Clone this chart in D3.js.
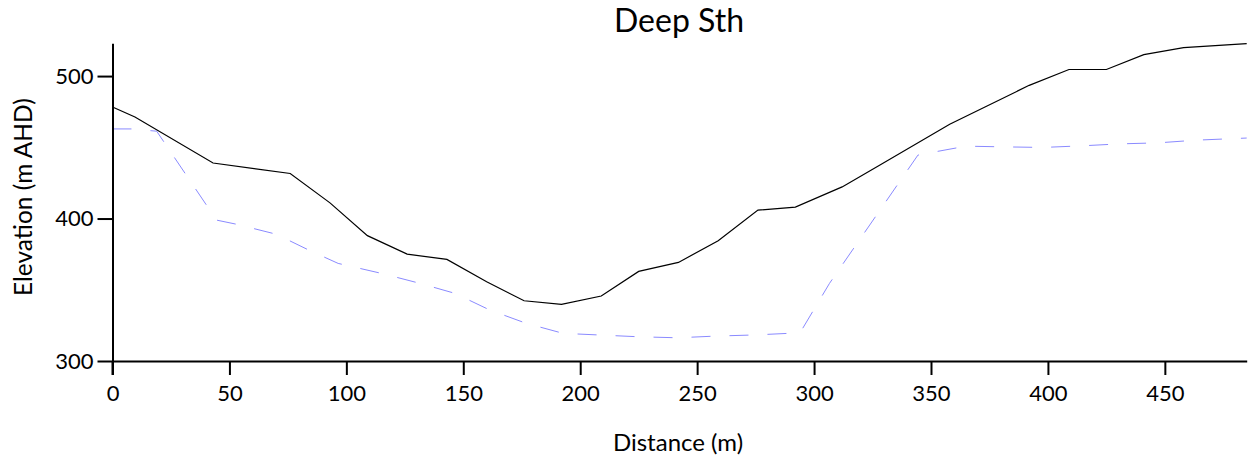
<!DOCTYPE html>
<html>
<head>
<meta charset="utf-8">
<script src="https://cdn.jsdelivr.net/npm/d3@7"></script>
<style>
  body { margin: 0; background: #fff; }
  svg { display: block; font-family: Lato, "Open Sans", sans-serif; }
</style>
</head>
<body>
<svg id="chart" width="1258" height="460"></svg>
<script>
// Ground surface (black solid)
const surfaceX = [0, 9.6, 43, 76, 93, 109, 126, 143, 160, 176, 192, 209, 225, 242, 259, 276, 292, 312, 328, 358, 392, 409, 425, 441, 458, 485];
const surfaceY = [478.3, 471.3, 439, 431.6, 411, 388, 375, 371.3, 355.6, 342.3, 339.8, 345.6, 362.9, 369.2, 384.4, 405.9, 408, 422.2, 437.4, 466.2, 493.5, 504.6, 504.6, 515, 520, 522.8];
// Second profile (blue dashed)
const layerX = [0, 8, 18.9, 44.5, 53, 70, 84, 96.5, 115, 131, 146.4, 161.3, 177, 192.7, 209, 225, 241.7, 258.2, 275, 294, 306.6, 344.4, 348, 365, 381.4, 397.8, 414.2, 430.6, 446.9, 463.3, 485];
const layerY = [462.9, 462.9, 461.3, 398.9, 396, 389, 377.8, 368.5, 361.5, 354.7, 347.5, 335.8, 326.4, 319.4, 318.2, 317, 316.3, 317.5, 318.3, 319.8, 354.5, 444.5, 445.7, 450.8, 450.3, 449.9, 451, 452.4, 453.1, 455, 456.5];
const xTicks = [0, 50, 100, 150, 200, 250, 300, 350, 400, 450];
const yTicks = [300, 400, 500];
const xDomain = [0, 485];
const yDomain = [300, 523];
const titleText = "Deep Sth";
const xLabel = "Distance (m)";
const yLabel = "Elevation (m AHD)";

const svg = d3.select("#chart");
const L = 112.5, R = 1246.7, T = 43.3, B = 361;
const x = d3.scaleLinear().domain(xDomain).range([L, R]);
const y = d3.scaleLinear().domain(yDomain).range([B, T]);

const surface = surfaceX.map((d, i) => [d, surfaceY[i]]);
const layer = layerX.map((d, i) => [d, layerY[i]]);
const line = d3.line().x(d => x(d[0])).y(d => y(d[1]));

svg.append("path").datum(layer).attr("d", line)
  .attr("fill", "none").attr("stroke", "#8a8aff").attr("stroke-width", 1)
  .attr("stroke-dasharray", "19,19");
svg.append("path").datum(surface).attr("d", line)
  .attr("fill", "none").attr("stroke", "#000").attr("stroke-width", 1.2);

const xAxis = svg.append("g").attr("transform", `translate(0,${B})`)
  .call(d3.axisBottom(x).tickValues(xTicks).tickSize(14).tickPadding(10).tickSizeOuter(0));
const yAxis = svg.append("g").attr("transform", `translate(${L},0)`)
  .call(d3.axisLeft(y).tickValues(yTicks).tickSize(15).tickPadding(4).tickSizeOuter(0));
[xAxis, yAxis].forEach(g => {
  g.select(".domain").attr("stroke", "#000").attr("stroke-width", 2);
  g.selectAll(".tick line").attr("stroke", "#000").attr("stroke-width", 2);
  g.selectAll(".tick text").attr("fill", "#000").style("font-size", "22px").style("font-family", "Lato");
});
// extend y axis down to the x-axis tick bottom
svg.append("line").attr("x1", L).attr("x2", L).attr("y1", B).attr("y2", B + 14)
  .attr("stroke", "#000").attr("stroke-width", 2);

svg.append("text").attr("x", 679).attr("y", 32).attr("text-anchor", "middle")
  .style("font-size", "32px").attr("fill", "#000").text(titleText);
svg.append("text").attr("x", 678).attr("y", 451).attr("text-anchor", "middle")
  .style("font-size", "24px").attr("fill", "#000").text(xLabel);
svg.append("text").attr("transform", `translate(32,${(T + B) / 2 - 5}) rotate(-90)`)
  .attr("text-anchor", "middle").style("font-size", "24.5px").attr("fill", "#000").text(yLabel);
</script>
</body>
</html>
